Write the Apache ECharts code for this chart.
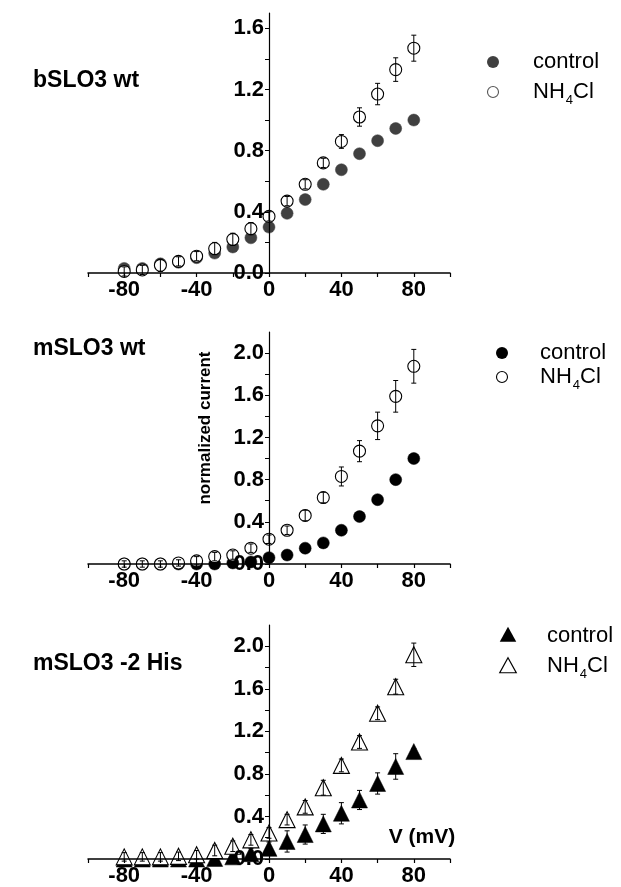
<!DOCTYPE html>
<html><head><meta charset="utf-8">
<script src="https://cdn.jsdelivr.net/npm/echarts@6/dist/echarts.min.js"></script>
<style>html,body{margin:0;padding:0;background:#fff}#c{width:621px;height:887px}</style>
</head><body><div id="c"></div>
<script>
// Voltage (mV)
var V = [-80,-70,-60,-50,-40,-30,-20,-10,0,10,20,30,40,50,60,70,80];
var xTicks = [-80,-40,0,40,80];

// bSLO3 wt
var bCtrl    = [0.03,0.03,0.06,0.07,0.10,0.13,0.17,0.23,0.30,0.39,0.48,0.58,0.675,0.78,0.865,0.945,1.00];
var bCtrlErr = [0.01,0.01,0.01,0.01,0.01,0.01,0.01,0.01,0.01,0.01,0.01,0.01,0.01,0.01,0.01,0.01,0.01];
var bNH4     = [0.01,0.02,0.05,0.076,0.11,0.16,0.22,0.29,0.37,0.47,0.58,0.72,0.86,1.02,1.17,1.33,1.47];
var bNH4Err  = [0.03,0.03,0.04,0.03,0.03,0.04,0.04,0.04,0.03,0.03,0.03,0.03,0.045,0.06,0.07,0.077,0.085];
var bYTicks  = [0,0.4,0.8,1.2,1.6];

// mSLO3 wt
var mCtrl    = [0,0,0,0,0,0,0.01,0.02,0.06,0.085,0.15,0.20,0.32,0.45,0.61,0.80,1.00];
var mCtrlErr = [0.01,0.01,0.01,0.01,0.01,0.01,0.01,0.02,0.02,0.02,0.02,0.02,0.02,0.02,0.02,0.02,0.02];
var mNH4     = [0,0,0,0.01,0.03,0.07,0.085,0.15,0.235,0.32,0.46,0.63,0.83,1.07,1.31,1.59,1.875];
var mNH4Err  = [0.03,0.03,0.03,0.03,0.04,0.04,0.04,0.04,0.04,0.04,0.05,0.05,0.09,0.10,0.13,0.15,0.16];
var mYTicks  = [0,0.4,0.8,1.2,1.6,2.0];

// mSLO3 -2 His
var hCtrl    = [0,0,0,0,0,0.005,0.02,0.05,0.10,0.165,0.23,0.33,0.43,0.555,0.71,0.87,1.01];
var hCtrlErr = [0.02,0.02,0.02,0.02,0.02,0.03,0.04,0.05,0.06,0.10,0.09,0.09,0.10,0.09,0.10,0.12,0.03];
var hNH4     = [0.02,0.02,0.02,0.025,0.04,0.08,0.12,0.18,0.245,0.37,0.49,0.67,0.88,1.10,1.37,1.62,1.92];
var hNH4Err  = [0.04,0.04,0.04,0.04,0.04,0.05,0.05,0.05,0.05,0.05,0.06,0.07,0.06,0.06,0.06,0.07,0.11];
var hYTicks  = [0,0.4,0.8,1.2,1.6,2.0];

var FONT = 'Liberation Sans, Arial, Helvetica, sans-serif';

function pairs(vals){ return V.map(function(v,i){ return [v, vals[i]]; }); }
function errData(vals, errs){ return V.map(function(v,i){ return [v, vals[i], errs[i]]; }); }
function range(a, b, s){ var r=[]; for (var v=a; v<=b+1e-9; v+=s) r.push(Math.round(v*10)/10); return r; }

function errSeries(idx, vals, errs, z){
  return {
    type:'custom', xAxisIndex:idx, yAxisIndex:idx, z:z, silent:true,
    data: errData(vals, errs),
    renderItem: function(params, api){
      var x = api.value(0), y = api.value(1), e = api.value(2);
      var hi = api.coord([x, y+e]), lo = api.coord([x, y-e]);
      var w = 2.5;
      var st = {stroke:'#000', lineWidth:1};
      return {type:'group', children:[
        {type:'line', shape:{x1:hi[0],y1:hi[1],x2:lo[0],y2:lo[1]}, style:st},
        {type:'line', shape:{x1:hi[0]-w,y1:hi[1],x2:hi[0]+w,y2:hi[1]}, style:st},
        {type:'line', shape:{x1:lo[0]-w,y1:lo[1],x2:lo[0]+w,y2:lo[1]}, style:st}
      ]};
    }
  };
}

function scat(idx, vals, symbol, size, filled, color){
  return {
    type:'scatter', xAxisIndex:idx, yAxisIndex:idx, z: filled ? 2 : 3, silent:true,
    symbol: symbol, symbolSize: size,
    data: pairs(vals),
    itemStyle: filled ? {color:color, borderColor:color, borderWidth:0.5, opacity:1}
                      : {color:'#fff', borderColor:'#000', borderWidth:1.1, opacity:1}
  };
}

var GL = 88, GW = 362;
var grids = [
  {left:GL, width:GW, top:13,  height:260},
  {left:GL, width:GW, top:332, height:232},
  {left:GL, width:GW, top:625, height:234}
];
var ymax = [1.7, 2.2, 2.2];
var yTickSets = [bYTicks, mYTicks, hYTicks];
// y axis drawn at V = 0 (middle of the -100..100 range)
var yOffset = -GW/2;

var xAxes = grids.map(function(g,i){
  return {
    type:'value', gridIndex:i, min:-100, max:100, interval:20, z:10,
    axisLine:{onZero:true, lineStyle:{color:'#000', width:1.5}},
    axisTick:{show:true, inside:false, length:4, lineStyle:{color:'#000', width:1.2}},
    axisLabel:{customValues:xTicks, margin:6, color:'#000', fontSize:22, fontWeight:'bold', fontFamily:FONT},
    splitLine:{show:false}
  };
});
var yAxes = grids.map(function(g,i){
  return {
    type:'value', gridIndex:i, min:0, max:ymax[i], position:'left', offset:yOffset, z:10,
    axisLine:{show:true, onZero:false, lineStyle:{color:'#000', width:1.2}},
    axisTick:{show:true, inside:false, length:4, customValues:range(0, ymax[i]-0.05, 0.2), lineStyle:{color:'#000', width:1}},
    axisLabel:{customValues:yTickSets[i], margin:5, color:'#000', fontSize:22, fontWeight:'bold', fontFamily:FONT,
      formatter:function(v){ return Number(v).toFixed(1); }},
    splitLine:{show:false}
  };
});

function legendLabel(x, y, sub){
  if (!sub) return {type:'text', x:x, y:y, style:{text:'control', font:'22px '+FONT, fill:'#000', verticalAlign:'middle', align:'left'}};
  return {type:'text', x:x, y:y, style:{
    text:'{a|NH}{s|4}{a|Cl}', verticalAlign:'middle', align:'left', fill:'#000',
    rich:{a:{fontSize:22, fontFamily:FONT, fill:'#000', lineHeight:26},
          s:{fontSize:13, fontFamily:FONT, fill:'#000', lineHeight:26, padding:[16,0,0,1]}}
  }};
}
function tri(cx, cy, s, filled){
  return {type:'polygon', shape:{points:[[cx,cy-s*0.55],[cx+s*0.55,cy+s*0.45],[cx-s*0.55,cy+s*0.45]]},
    style: filled ? {fill:'#000'} : {fill:'none', stroke:'#000', lineWidth:1.2}};
}

var option = {
  animation:false,
  backgroundColor:'#fff',
  title:[
    {text:'bSLO3 wt', left:33, top:69, padding:0, textStyle:{fontSize:23, fontWeight:'bold', color:'#000', fontFamily:FONT}},
    {text:'mSLO3 wt', left:33, top:337, padding:0, textStyle:{fontSize:23, fontWeight:'bold', color:'#000', fontFamily:FONT}},
    {text:'mSLO3 -2 His', left:33, top:652, padding:0, textStyle:{fontSize:23, fontWeight:'bold', color:'#000', fontFamily:FONT}}
  ],
  grid: grids,
  xAxis: xAxes,
  yAxis: yAxes,
  graphic:[
    {type:'circle', shape:{cx:493, cy:62, r:6}, style:{fill:'#404040'}},
    legendLabel(533, 62, false),
    {type:'circle', shape:{cx:493, cy:92, r:5.5}, style:{fill:'none', stroke:'#555', lineWidth:1.1}},
    legendLabel(533, 92, true),
    {type:'circle', shape:{cx:502, cy:353, r:6}, style:{fill:'#000'}},
    legendLabel(540, 353, false),
    {type:'circle', shape:{cx:502, cy:377, r:5.5}, style:{fill:'none', stroke:'#000', lineWidth:1.1}},
    legendLabel(540, 377, true),
    tri(508, 635, 15, true),
    legendLabel(547, 636, false),
    tri(508, 666, 15, false),
    legendLabel(547, 666, true),
    {type:'text', x:205, y:428, rotation:Math.PI/2, style:{text:'normalized current', font:'bold 17px '+FONT, fill:'#000', align:'center', verticalAlign:'middle'}},
    {type:'text', x:422, y:837, style:{text:'V (mV)', font:'bold 21px '+FONT, fill:'#000', align:'center', verticalAlign:'middle'}}
  ],
  series:[
    errSeries(0, bCtrl, bCtrlErr, 1),
    scat(0, bCtrl, 'circle', 12, true, '#404040'),
    scat(0, bNH4, 'circle', 12, false),
    errSeries(0, bNH4, bNH4Err, 4),
    errSeries(1, mCtrl, mCtrlErr, 1),
    scat(1, mCtrl, 'circle', 12, true, '#000'),
    scat(1, mNH4, 'circle', 12, false),
    errSeries(1, mNH4, mNH4Err, 4),
    errSeries(2, hCtrl, hCtrlErr, 1),
    scat(2, hCtrl, 'triangle', 16, true, '#000'),
    scat(2, hNH4, 'triangle', 16, false),
    errSeries(2, hNH4, hNH4Err, 4)
  ]
};
echarts.init(document.getElementById('c'), null, {renderer:'canvas'}).setOption(option);
</script></body></html>
